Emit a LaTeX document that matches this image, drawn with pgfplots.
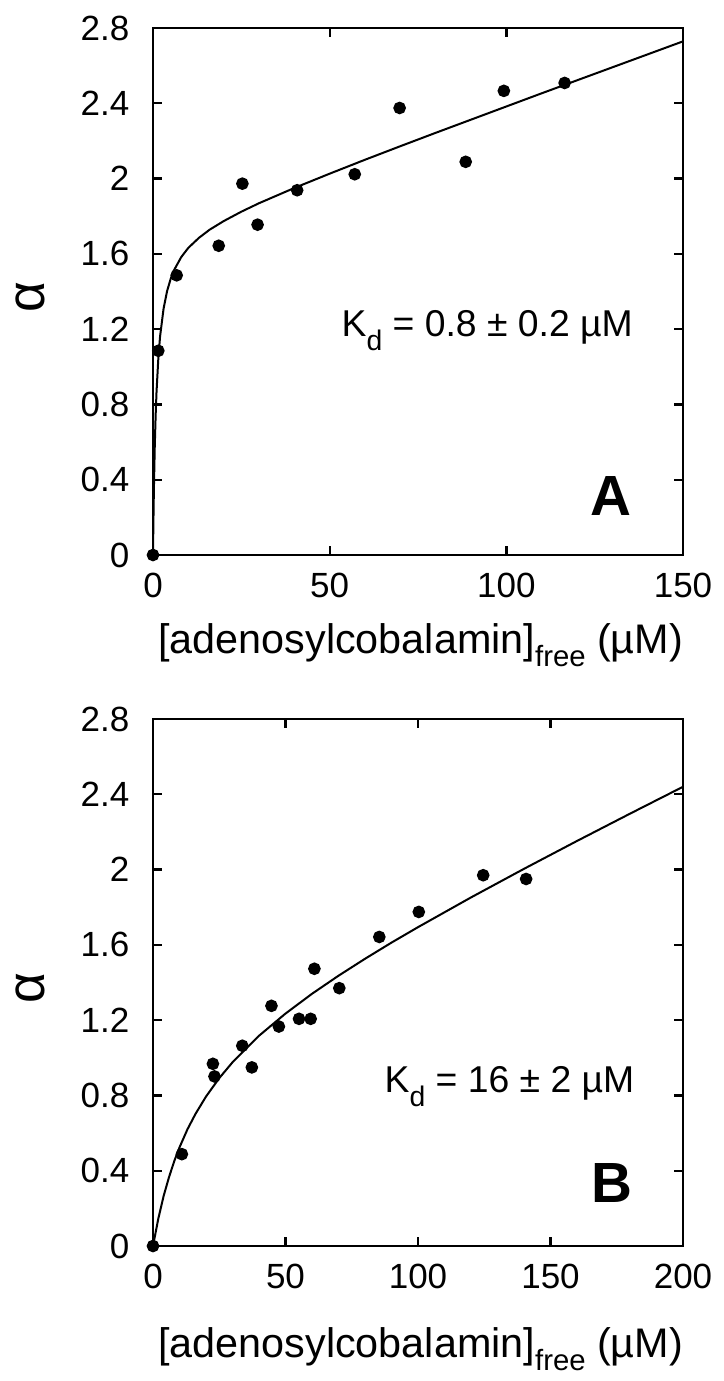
\documentclass[border=0pt]{standalone}
\usepackage{fontspec}
\setmainfont{Liberation Sans}
\usepackage{pgfplots}
\pgfplotsset{compat=1.18}

\pgfplotsset{
  kdpanel/.style={
    scale only axis,
    width=159pt, height=158.1pt,
    ymin=0, ymax=2.8,
    ytick={0,0.4,0.8,1.2,1.6,2,2.4,2.8},
    axis line style={line width=0.7pt},
    every tick/.style={line width=0.7pt, black},
    major tick length=2.8pt,
    tick align=inside,
    clip=false,
    /pgf/number format/assume math mode=true,
    ticklabel style={font=\fontsize{10.5}{12}\selectfont},
    xticklabel style={yshift=-1.8pt},
    yticklabel style={xshift=-3.6pt},
    ylabel={α},
    ylabel style={at={(axis description cs:0,0.49)}, anchor=center, yshift=36.9pt,
      font=\fontsize{16}{18}\selectfont},
  },
  pts/.style={only marks, mark=*, mark size=1.7pt, black},
  fit/.style={no markers, black, line width=0.6pt},
}

\begin{document}
\begin{tikzpicture}
\path[use as bounding box] (-45.9pt,-247.8pt) rectangle (171pt,166.5pt);

% panel A
\begin{axis}[kdpanel,
  at={(0,0)},
  xmin=0, xmax=150, xtick={0,50,100,150},
  xlabel={[adenosylcobalamin]\raisebox{-0.6ex}{\fontsize{8.8}{9}\selectfont free} (µM)},
  xlabel style={at={(axis description cs:0.505,0)}, anchor=base, yshift=-29.4pt,
    font=\fontsize{12.4}{14}\selectfont},
]
\addplot[fit] coordinates {
(0,0) (0.1,0.157) (0.25,0.346) (0.5,0.576) (0.75,0.742) (1,0.867) (1.5,1.042)
(2,1.161) (3,1.310) (4,1.403) (5,1.467) (6,1.515) (8,1.583) (10,1.632)
(13,1.685) (16,1.728) (20,1.774) (25,1.824) (30,1.869) (40,1.950) (50,2.026)
(60,2.100) (70,2.172) (80,2.243) (90,2.313) (100,2.383) (110,2.453)
(120,2.522) (130,2.591) (140,2.660) (150,2.729)};
\addplot[pts] coordinates {
(0,0) (1.5,1.085) (6.7,1.486) (18.6,1.643) (25.3,1.973) (29.6,1.755)
(40.8,1.938) (57.1,2.023) (69.8,2.375) (88.5,2.089) (99.3,2.466) (116.5,2.508)};
\node[anchor=base east, inner sep=0pt, font=\fontsize{11.2}{12}\selectfont] at (axis cs:136,1.16)
  {K\raisebox{-0.7ex}{\fontsize{8.5}{9}\selectfont d} = 0.8 ± 0.2 µM};
\node[anchor=base east, inner sep=0pt, font=\fontsize{17}{18}\selectfont\bfseries] at (axis cs:135.6,0.212) {A};
\end{axis}

% panel B
\begin{axis}[kdpanel,
  at={(0,-207.3pt)},
  xmin=0, xmax=200, xtick={0,50,100,150,200},
  xlabel={[adenosylcobalamin]\raisebox{-0.6ex}{\fontsize{8.8}{9}\selectfont free} (µM)},
  xlabel style={at={(axis description cs:0.505,0)}, anchor=base, yshift=-33.3pt,
    font=\fontsize{12.4}{14}\selectfont},
]
\addplot[fit] coordinates {
(0,0) (2,0.145) (4,0.265) (6,0.364) (8,0.450) (10,0.524) (13,0.620)
(16,0.701) (20,0.794) (25,0.892) (30,0.976) (40,1.117) (50,1.235)
(60,1.340) (70,1.436) (80,1.526) (90,1.612) (100,1.694) (120,1.852)
(140,2.004) (160,2.152) (180,2.297) (200,2.440)};
\addplot[pts] coordinates {
(0,0) (10.9,0.488) (22.6,0.968) (23.2,0.901) (33.7,1.064) (37.3,0.949)
(44.7,1.276) (47.5,1.166) (55.1,1.207) (59.5,1.207) (60.9,1.473) (70.3,1.370)
(85.4,1.642) (100.3,1.775) (124.6,1.970) (140.8,1.950)};
\node[anchor=base east, inner sep=0pt, font=\fontsize{11.2}{12}\selectfont] at (axis cs:181.9,0.814)
  {K\raisebox{-0.7ex}{\fontsize{8.5}{9}\selectfont d} = 16 ± 2 µM};
\node[anchor=base east, inner sep=0pt, font=\fontsize{17}{18}\selectfont\bfseries] at (axis cs:181.1,0.232) {B};
\end{axis}
\end{tikzpicture}
\end{document}
